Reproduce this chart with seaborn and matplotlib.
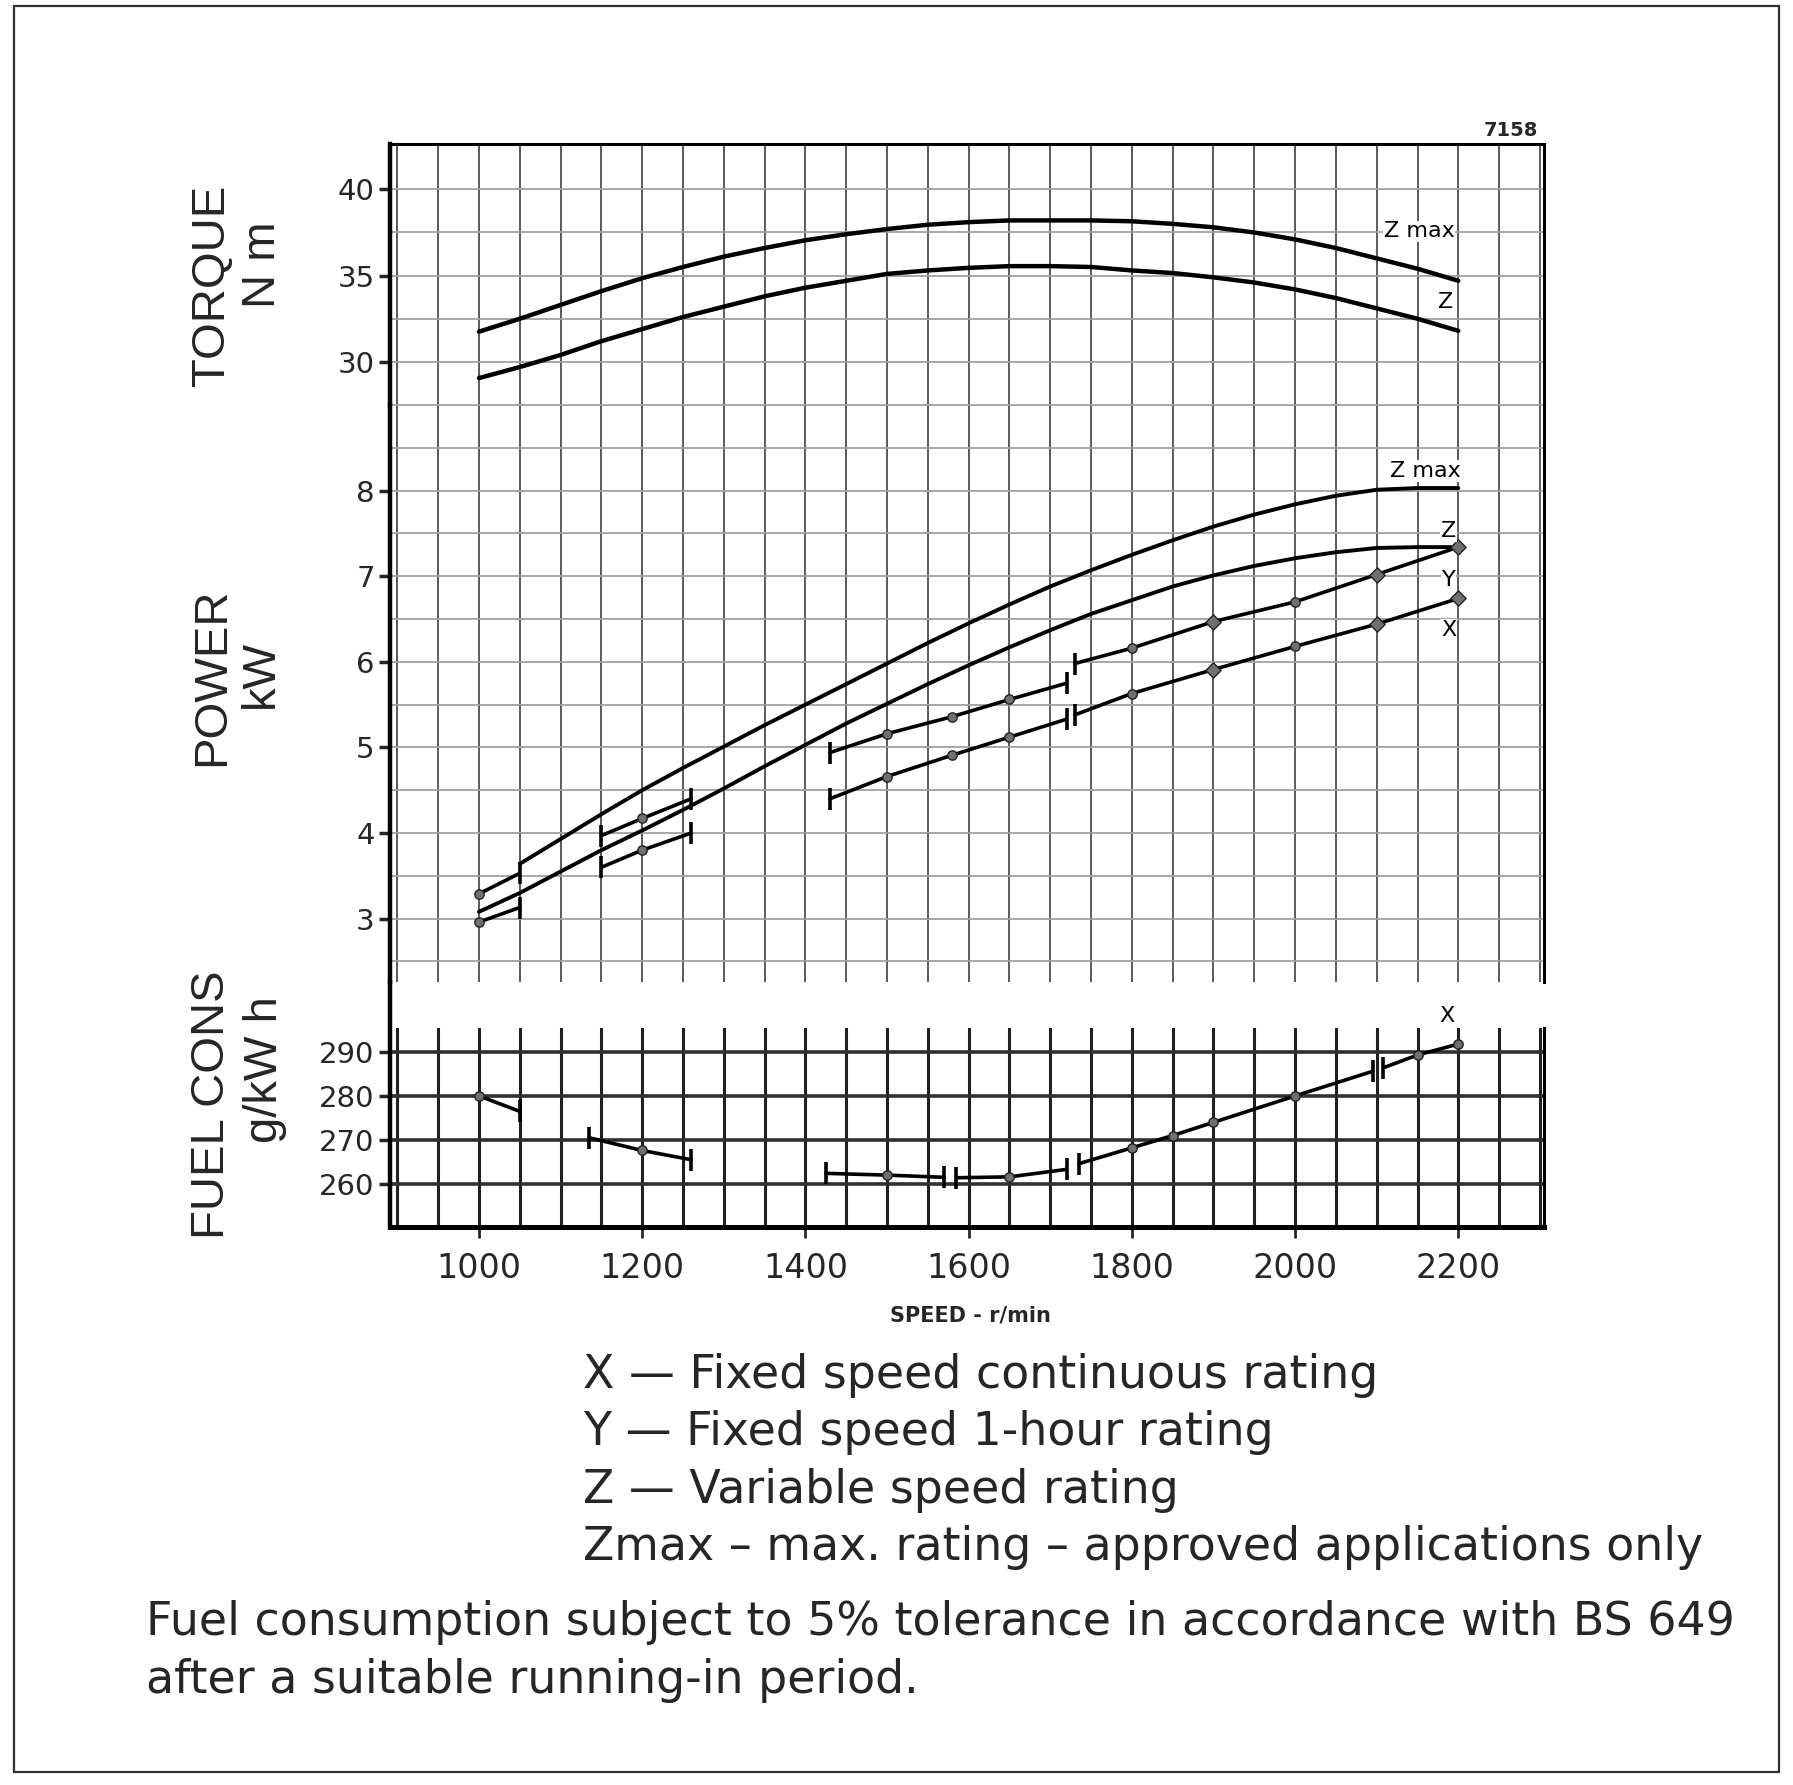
import matplotlib
matplotlib.use("Agg")
import matplotlib.pyplot as plt
import seaborn as sns
from matplotlib.patches import Rectangle

W, H = 1793, 1785

# speed points of the smooth rating curves, r/min
speed = [1000, 1050, 1100, 1150, 1200, 1250, 1300, 1350, 1400, 1450, 1500, 1550, 1600,
         1650, 1700, 1750, 1800, 1850, 1900, 1950, 2000, 2050, 2100, 2150, 2200]

# torque, N m
torque_zmax = [31.75, 32.5, 33.3, 34.1, 34.85, 35.5, 36.1, 36.6, 37.05, 37.4, 37.7, 37.95, 38.1,
               38.2, 38.2, 38.2, 38.15, 38.0, 37.8, 37.5, 37.1, 36.6, 36.0, 35.4, 34.7]
torque_z = [29.06, 29.7, 30.4, 31.2, 31.9, 32.6, 33.2, 33.8, 34.3, 34.7, 35.1, 35.3, 35.45,
            35.55, 35.55, 35.5, 35.3, 35.15, 34.9, 34.6, 34.2, 33.7, 33.1, 32.5, 31.8]

# power, kW (Z max curve starts at 1050)
power_zmax = [3.64, 3.93, 4.22, 4.50, 4.76, 5.01, 5.26, 5.50, 5.74, 5.98, 6.22, 6.45,
              6.67, 6.88, 7.07, 7.25, 7.42, 7.58, 7.72, 7.84, 7.94, 8.01, 8.03, 8.03]
power_z = [3.08, 3.30, 3.55, 3.80, 4.03, 4.27, 4.52, 4.78, 5.03, 5.28, 5.51, 5.74, 5.96,
           6.17, 6.37, 6.56, 6.72, 6.88, 7.01, 7.12, 7.21, 7.28, 7.33, 7.34, 7.34]

# fixed speed ratings, drawn as short test segments
y_rpm = [[1000, 1050], [1150, 1200, 1260], [1430, 1500, 1580, 1650, 1720],
         [1730, 1800, 1900, 2000, 2100, 2200]]
y_kw = [[3.29, 3.53], [3.97, 4.17, 4.40], [4.94, 5.16, 5.36, 5.56, 5.75],
        [5.98, 6.16, 6.47, 6.70, 7.02, 7.34]]
x_rpm = [[1000, 1050], [1150, 1200, 1260], [1430, 1500, 1580, 1650, 1720],
         [1730, 1800, 1900, 2000, 2100, 2200]]
x_kw = [[2.96, 3.13], [3.60, 3.80, 4.00], [4.40, 4.66, 4.91, 5.12, 5.33],
        [5.38, 5.63, 5.91, 6.18, 6.44, 6.74]]

# fuel consumption at X rating, g/kW h
fuel_rpm = [[1000, 1050], [1135, 1200, 1260], [1425, 1500, 1570], [1585, 1650, 1720],
            [1735, 1800, 1850, 1900, 2000, 2095], [2108, 2150, 2200]]
fuel_g = [[280.0, 276.5], [270.5, 267.6, 265.5], [262.4, 262.0, 261.5], [261.4, 261.6, 263.3],
          [264.6, 268.2, 271.0, 274.0, 280.0, 285.6], [286.4, 289.3, 291.8]]

# the big test points on the fixed speed lines
big_points = [1900, 2100, 2200]

speed_ticks = [1000, 1200, 1400, 1600, 1800, 2000, 2200]
speed_grid = [900, 950, 1000, 1050, 1100, 1150, 1200, 1250, 1300, 1350, 1400, 1450, 1500,
              1550, 1600, 1650, 1700, 1750, 1800, 1850, 1900, 1950, 2000, 2050, 2100,
              2150, 2200, 2250, 2300]
torque_ticks = [30, 35, 40]
torque_grid = [27.5, 30, 32.5, 35, 37.5, 40]
power_ticks = [3, 4, 5, 6, 7, 8]
power_grid = [2.5, 3, 3.5, 4, 4.5, 5, 5.5, 6, 6.5, 7, 7.5, 8, 8.5, 9]
fuel_ticks = [260, 270, 280, 290]

legend_lines = ["X \u2014 Fixed speed continuous rating",
                "Y \u2014 Fixed speed 1-hour rating",
                "Z \u2014 Variable speed rating",
                "Zmax \u2013 max. rating \u2013 approved applications only"]
note_lines = ["Fuel consumption subject to 5% tolerance in accordance with BS 649",
              "after a suitable running-in period."]

sns.set_style("white")
plt.rcParams["font.family"] = ["DejaVu Sans"]

fig = plt.figure(figsize=(W / 100, H / 100), dpi=100)


def add_ax(top, bottom):
    return fig.add_axes([390 / W, 1 - bottom / H, (1544 - 390) / W, (bottom - top) / H])


ax_t = add_ax(144, 405)
ax_p = add_ax(405, 982)
ax_f = add_ax(1028, 1227)

for ax in (ax_t, ax_p, ax_f):
    ax.set_xlim(891, 2305)
    ax.set_xticks(speed_ticks)
    ax.set_xticks(speed_grid, minor=True)
    ax.tick_params(axis="x", which="both", length=0, labelbottom=False)
    ax.tick_params(axis="y", which="major", length=8, width=2.5, direction="out",
                   pad=3, labelsize=21, left=True)
    ax.tick_params(axis="y", which="minor", length=0)
    ax.set_facecolor("white")
    for s in ax.spines.values():
        s.set_color("black")
    ax.spines["left"].set_linewidth(3.2)
    ax.spines["right"].set_linewidth(2.2)

# upper sections: thin grid
for ax, lim, ticks, grid in ((ax_t, (27.5, 42.63), torque_ticks, torque_grid),
                             (ax_p, (2.26, 9.0), power_ticks, power_grid)):
    ax.set_ylim(*lim)
    ax.set_yticks(ticks)
    ax.set_yticks(grid, minor=True)
    ax.grid(which="both", axis="x", color="#5a5a5a", linewidth=1.4)
    ax.grid(which="both", axis="y", color="#a0a0a0", linewidth=1.3)
    ax.spines["bottom"].set_visible(False)

ax_t.spines["top"].set_linewidth(2.2)
ax_p.spines["top"].set_visible(False)

ax_f.set_ylim(250.2, 295.45)
ax_f.set_yticks(fuel_ticks)
ax_f.grid(which="both", axis="x", color="#202020", linewidth=2.2)
ax_f.grid(which="major", axis="y", color="#303030", linewidth=2.6)
ax_f.spines["top"].set_visible(False)
ax_f.spines["bottom"].set_linewidth(3.6)
# left axis line runs on through the gap above the fuel section
ax_f.spines["left"].set_bounds(250.2, 305.9)
ax_f.tick_params(axis="x", which="major", length=8, width=2, direction="out",
                 labelbottom=True, labelsize=24, pad=10, bottom=True)

for ax in (ax_t, ax_p, ax_f):
    ax.set_xlabel("")
    ax.set_ylabel("")


def curve(ax, xs, ys, lw):
    sns.lineplot(x=xs, y=ys, ax=ax, color="black", linewidth=lw, estimator=None,
                 sort=False, legend=False, zorder=4)


def segment(ax, xs, ys, big=()):
    curve(ax, xs, ys, 2.6)
    dots_x, dots_y, ends_x, ends_y, big_x, big_y = [], [], [], [], [], []
    for i, (sx, sy) in enumerate(zip(xs, ys)):
        if sx in big:
            big_x.append(sx)
            big_y.append(sy)
        elif 0 < i < len(xs) - 1 or sx in (1000, 2200):
            dots_x.append(sx)
            dots_y.append(sy)
        else:
            ends_x.append(sx)
            ends_y.append(sy)
    sns.scatterplot(x=dots_x, y=dots_y, ax=ax, marker="o", s=45, color="#707070",
                    edgecolor="#222222", linewidth=1.0, zorder=5, legend=False)
    if big_x:
        sns.scatterplot(x=big_x, y=big_y, ax=ax, marker="D", s=60, color="#707070",
                        edgecolor="#222222", linewidth=1.0, zorder=5, legend=False)
    if ends_x:
        sns.scatterplot(x=ends_x, y=ends_y, ax=ax, marker="|", s=260, color="black",
                        linewidth=2.6, zorder=5, legend=False)


curve(ax_t, speed, torque_zmax, 3.2)
curve(ax_t, speed, torque_z, 3.2)
curve(ax_p, speed[1:], power_zmax, 2.8)
curve(ax_p, speed, power_z, 2.8)
for xs, ys in zip(y_rpm, y_kw):
    segment(ax_p, xs, ys, big_points)
for xs, ys in zip(x_rpm, x_kw):
    segment(ax_p, xs, ys, big_points)
for xs, ys in zip(fuel_rpm, fuel_g):
    segment(ax_f, xs, ys)

lab = dict(fontsize=16, ha="center", va="center", color="black", zorder=6,
           clip_on=False, bbox=dict(facecolor="white", edgecolor="none", pad=0.5))
ax_t.text(2152, 37.56, "Z max", **lab)
ax_t.text(2184, 33.46, "Z", **lab)
ax_p.text(2160, 8.23, "Z max", **lab)
ax_p.text(2188, 7.53, "Z", **lab)
ax_p.text(2188, 6.96, "Y", **lab)
ax_p.text(2188, 6.37, "X", **lab)
ax_f.text(2186, 298.2, "X", **lab)


def ftext(x, y, s, **kw):
    fig.text(x / W, 1 - y / H, s, **kw)


side = dict(rotation=90, ha="center", va="center", fontsize=34,
            family=["Liberation Sans", "DejaVu Sans"])
ftext(212, 285, "TORQUE", **side)
ftext(263, 265, "N m", **side)
ftext(212, 677, "POWER", **side)
ftext(261, 674, "kW", **side)
ftext(212, 1105, "FUEL CONS", **side)
ftext(265, 1070, "g/kW h", **side)

ftext(1538, 130, "7158", ha="right", va="center", fontsize=14, weight="bold")
ftext(970, 1315, "SPEED - r/min", ha="center", va="center", fontsize=15, weight="bold")

for i, line in enumerate(legend_lines):
    ftext(583, 1375 + i * 57.5, line, ha="left", va="center", fontsize=33)
for i, line in enumerate(note_lines):
    ftext(146, 1622 + i * 58, line, ha="left", va="center", fontsize=33)

fig.patches.append(Rectangle((14 / W, 1 - 1772 / H), (1779 - 14) / W, (1772 - 6) / H,
                             transform=fig.transFigure, fill=False, linewidth=1.6,
                             edgecolor="#333333"))

fig.savefig("out.png", dpi=100, facecolor="white")
